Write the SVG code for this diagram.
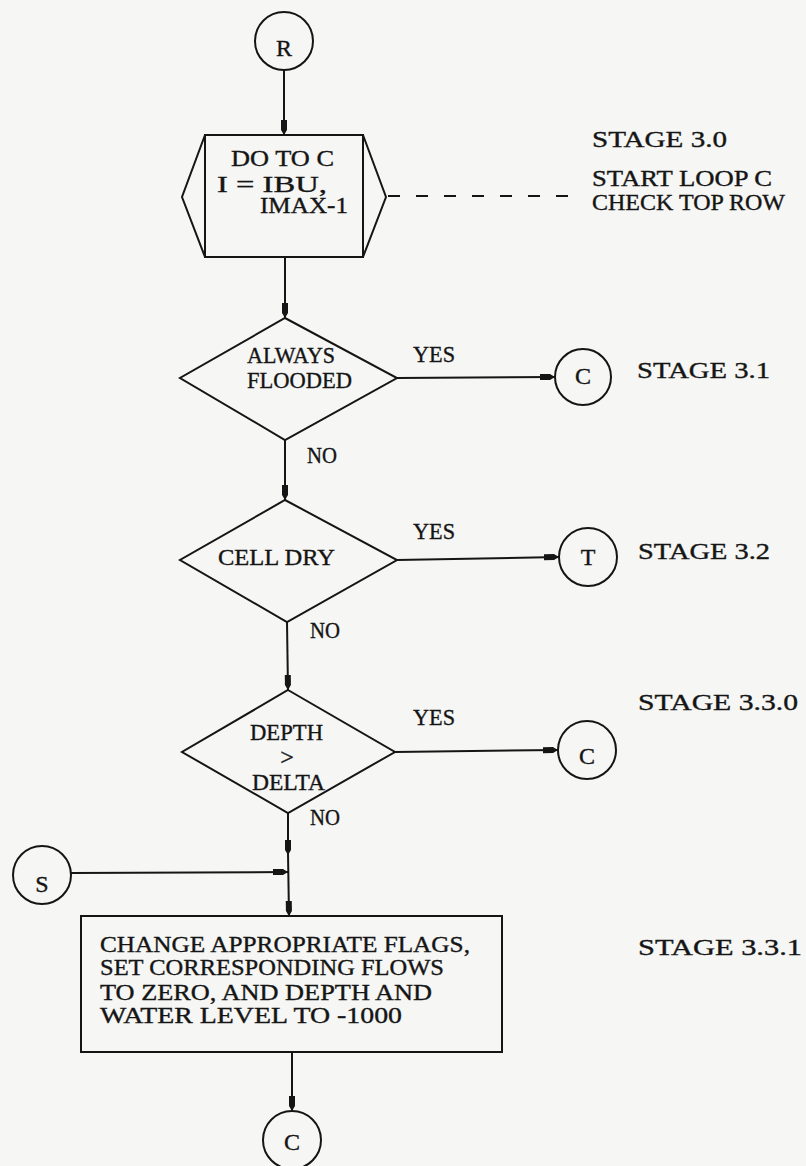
<svg xmlns="http://www.w3.org/2000/svg" width="806" height="1166" viewBox="0 0 806 1166">
<style>
.s{fill:none;stroke:#151515;stroke-width:2}
.n{fill:#f6f6f4;stroke:#151515;stroke-width:2}
.t{font-family:"Liberation Serif","DejaVu Serif",serif;font-size:23px;fill:#151515;stroke:#151515;stroke-width:0.35}
.c{font-family:"Liberation Serif","DejaVu Serif",serif;font-size:24px;fill:#151515;stroke:#151515;stroke-width:0.35;text-anchor:middle}
.d{fill:none;stroke:#151515;stroke-width:2;stroke-dasharray:12,16}
</style>
<defs>
<marker id="ah" markerUnits="userSpaceOnUse" markerWidth="16" markerHeight="9" refX="15" refY="4.5" orient="auto">
<path d="M0,1.5 L10,1.5 L15,4.5 L10,7.5 L0,7.5 z" fill="#151515"/>
</marker>
</defs>
<rect width="806" height="1166" fill="#f6f6f4"/>
<g id="connectors">
<line class="s" x1="284" y1="70" x2="284" y2="135" marker-end="url(#ah)"/>
<line class="s" x1="285" y1="257" x2="285" y2="318" marker-end="url(#ah)"/>
<line class="d" x1="388" y1="196" x2="572" y2="196"/>
<line class="s" x1="397" y1="378" x2="555" y2="377" marker-end="url(#ah)"/>
<line class="s" x1="285" y1="440" x2="285" y2="500" marker-end="url(#ah)"/>
<line class="s" x1="397" y1="560" x2="559" y2="557" marker-end="url(#ah)"/>
<line class="s" x1="287" y1="622" x2="288" y2="690" marker-end="url(#ah)"/>
<line class="s" x1="395" y1="752" x2="558" y2="750" marker-end="url(#ah)"/>
<line class="s" x1="288" y1="813" x2="288" y2="855" marker-end="url(#ah)"/>
<line class="s" x1="288" y1="853" x2="289" y2="916" marker-end="url(#ah)"/>
<line class="s" x1="71" y1="873" x2="288" y2="872" marker-end="url(#ah)"/>
<line class="s" x1="292" y1="1052" x2="292" y2="1111" marker-end="url(#ah)"/>
</g>
<g id="R">
<circle class="n" cx="284" cy="41" r="29"/>
<text class="c" x="284" y="56">R</text>
</g>
<g id="loop">
<rect class="n" x="205" y="135" width="158" height="122"/>
<polyline class="s" points="205,135 182,197 205,257"/>
<polyline class="s" points="363,135 386,197 363,257"/>
<text class="t" x="231" y="166" textLength="103" lengthAdjust="spacingAndGlyphs">DO TO C</text>
<text class="t" x="217" y="192" textLength="110" lengthAdjust="spacingAndGlyphs">I = IBU,</text>
<text class="t" x="260" y="213" textLength="88" lengthAdjust="spacingAndGlyphs">IMAX-1</text>
</g>
<g id="stage30">
<text class="t" x="592" y="147" textLength="135" lengthAdjust="spacingAndGlyphs">STAGE 3.0</text>
<text class="t" x="592" y="186" textLength="180" lengthAdjust="spacingAndGlyphs">START LOOP C</text>
<text class="t" x="592" y="210" textLength="193" lengthAdjust="spacingAndGlyphs">CHECK TOP ROW</text>
</g>
<g id="d1">
<polygon class="n" points="285,318 397,378 285,440 180,378"/>
<text class="t" x="247" y="363" textLength="88" lengthAdjust="spacingAndGlyphs">ALWAYS</text>
<text class="t" x="247" y="388" textLength="105" lengthAdjust="spacingAndGlyphs">FLOODED</text>
<text class="t" x="413" y="362" textLength="42" lengthAdjust="spacingAndGlyphs">YES</text>
<text class="t" x="307" y="463" textLength="30" lengthAdjust="spacingAndGlyphs">NO</text>
</g>
<g id="c1">
<circle class="n" cx="583" cy="377" r="28"/>
<text class="c" x="583" y="384">C</text>
<text class="t" x="637" y="378" textLength="133" lengthAdjust="spacingAndGlyphs">STAGE 3.1</text>
</g>
<g id="d2">
<polygon class="n" points="285,500 397,560 287,622 180,560"/>
<text class="t" x="218" y="565" textLength="117" lengthAdjust="spacingAndGlyphs">CELL DRY</text>
<text class="t" x="413" y="539" textLength="42" lengthAdjust="spacingAndGlyphs">YES</text>
<text class="t" x="310" y="638" textLength="30" lengthAdjust="spacingAndGlyphs">NO</text>
</g>
<g id="t1">
<circle class="n" cx="588" cy="557" r="29"/>
<text class="c" x="588" y="565">T</text>
<text class="t" x="638" y="559" textLength="132" lengthAdjust="spacingAndGlyphs">STAGE 3.2</text>
</g>
<g id="d3">
<polygon class="n" points="288,690 395,752 288,813 182,752"/>
<text class="t" x="250" y="740" textLength="73" lengthAdjust="spacingAndGlyphs">DEPTH</text>
<text class="c" x="287" y="765">&gt;</text>
<text class="t" x="252" y="790" textLength="73" lengthAdjust="spacingAndGlyphs">DELTA</text>
<text class="t" x="413" y="725" textLength="42" lengthAdjust="spacingAndGlyphs">YES</text>
<text class="t" x="310" y="825" textLength="30" lengthAdjust="spacingAndGlyphs">NO</text>
</g>
<g id="c2">
<circle class="n" cx="587" cy="750" r="29"/>
<text class="c" x="587" y="764">C</text>
<text class="t" x="638" y="710" textLength="160" lengthAdjust="spacingAndGlyphs">STAGE 3.3.0</text>
</g>
<g id="S">
<circle class="n" cx="42" cy="875" r="29"/>
<text class="c" x="42" y="892">S</text>
</g>
<g id="box">
<rect class="n" x="81" y="916" width="421" height="136"/>
<text class="t" x="100" y="952" textLength="370" lengthAdjust="spacingAndGlyphs">CHANGE APPROPRIATE FLAGS,</text>
<text class="t" x="100" y="975" textLength="344" lengthAdjust="spacingAndGlyphs">SET CORRESPONDING FLOWS</text>
<text class="t" x="100" y="1000" textLength="332" lengthAdjust="spacingAndGlyphs">TO ZERO, AND DEPTH AND</text>
<text class="t" x="100" y="1023" textLength="302" lengthAdjust="spacingAndGlyphs">WATER LEVEL TO -1000</text>
<text class="t" x="638" y="955" textLength="164" lengthAdjust="spacingAndGlyphs">STAGE 3.3.1</text>
</g>
<g id="c3">
<circle class="n" cx="292" cy="1140" r="29"/>
<text class="c" x="292" y="1150">C</text>
</g>
</svg>
